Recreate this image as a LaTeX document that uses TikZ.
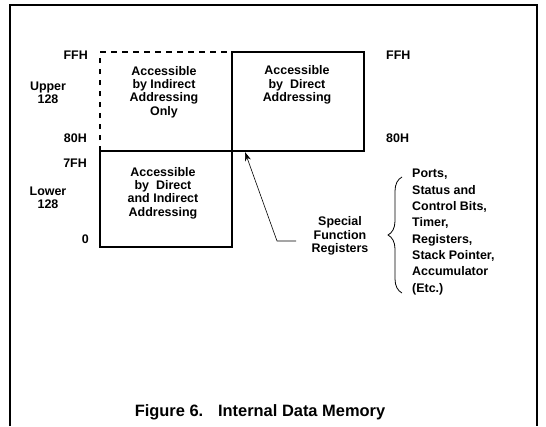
\documentclass[tikz,border=0pt]{standalone}
\usepackage{fontspec}
\setmainfont{Liberation Sans}
\usetikzlibrary{arrows.meta,decorations.pathreplacing}

\tikzset{
  lbl/.style={font=\fontsize{12.5}{13.3}\selectfont\bfseries, inner sep=0pt, align=center},
  lst/.style={font=\fontsize{12.5}{16.4}\selectfont\bfseries, inner sep=0pt, align=left},
  mem/.style={line width=1.6pt}
}

\begin{document}
\begin{tikzpicture}[x=1bp,y=-1bp]
        \useasboundingbox (0,0) rectangle (546,426);
        \def\upperdirect{(232,52) rectangle (364,151)}
        \def\lowerram{(100,151) rectangle (232,247)}

        % Outer frame, open at the bottom
        \draw[line width=1.8pt] (10,426) -- (10,5) -- (537,5) -- (537,426);

        % The three memory blocks
        \draw[mem, dash pattern=on 5.5bp off 5.5bp] (100,151) -- (100,52) -- (232,52);
        \draw[mem] \upperdirect;
        \draw[mem] \lowerram;

        % Addresses on the left and right
        \node[lbl, anchor=east] (ffhL) at (88,55) {FFH};
        \node[lbl] (upper) at (48,93) {Upper\\128};
        \node[lbl, anchor=east] (hlowL) at (87,138) {80H};
        \node[lbl, anchor=east] (h7f) at (87,163) {7FH};
        \node[lbl] (lower) at (48,198) {Lower\\128};
        \node[lbl, anchor=east] (zero) at (89,239) {0};
        \node[lbl, anchor=west] (ffhR) at (386,55) {FFH};
        \node[lbl, anchor=west] (hlowR) at (386,138) {80H};

        % Text inside the blocks
        \node[lbl] (indirect) at (164,92) {Accessible\\by Indirect\\Addressing\\Only};
        \node[lbl] (direct) at (297,85) {Accessible\\by\ \ Direct\\Addressing};
        \node[lbl] (both) at (163,193) {Accessible\\by\ \ Direct\\and Indirect\\Addressing};

        % Special function registers
        \node[lbl] (sfr) at (340,236) {Special\\Function\\Registers};
        \coordinate (sfrend) at (296,241);
        \coordinate (elbow) at (277,241);
        \coordinate (tip) at (245,152);
        \draw[line width=0.6pt, -{Stealth[length=9bp,width=6bp]}] (sfrend) -- (elbow) -- (tip);

        \draw[line width=0.8pt, decorate, decoration={brace, amplitude=14bp}] (402,293) -- (402,177);
        \node[lst, anchor=west] (regs) at (412,232) {Ports,\\Status and\\Control Bits,\\Timer,\\Registers,\\Stack Pointer,\\Accumulator\\(Etc.)};

        \node[font=\fontsize{16.5}{19}\selectfont\bfseries, inner sep=0pt] (caption) at (260,412) {Figure 6.\hspace{0.9em}Internal Data Memory};
    \end{tikzpicture}
\end{document}
